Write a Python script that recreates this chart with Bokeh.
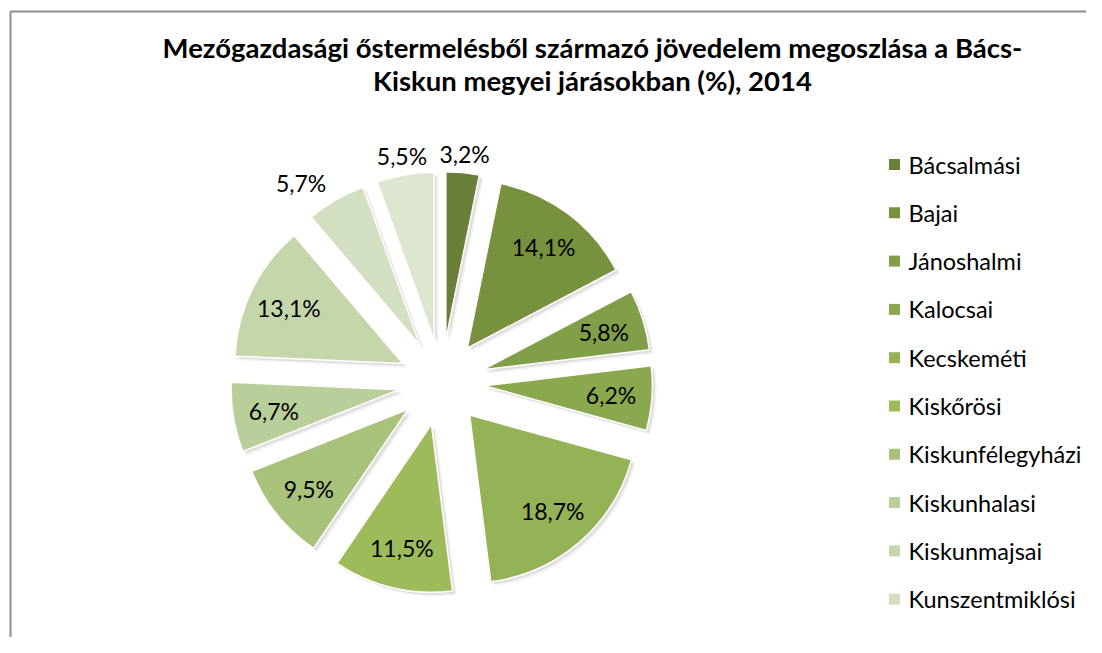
import math
from bokeh.plotting import figure
from bokeh.models import Range1d, ColumnDataSource
from bokeh.core.properties import value
from bokeh.embed import file_html
from bokeh.resources import INLINE

# ---- data ----
title_lines = ["Mezőgazdasági őstermelésből származó jövedelem megoszlása a Bács-",
               "Kiskun megyei járásokban (%), 2014"]
districts = ["Bácsalmási", "Bajai", "Jánoshalmi", "Kalocsai", "Kecskeméti", "Kiskőrösi",
             "Kiskunfélegyházi", "Kiskunhalasi", "Kiskunmajsai", "Kunszentmiklósi", "Tiszakécskei"]
shares = [3.2, 14.1, 5.8, 6.2, 18.7, 11.5, 9.5, 6.7, 13.1, 5.7, 5.5]
legend_count = 10  # the reference legend shows only the first ten entries
colors = ["#6a8039", "#77913f", "#819e48", "#8aa84d", "#94b256", "#9dbb5a",
          "#a9c27b", "#b9cf99", "#c6d6ab", "#d2dfc0", "#dde7d0"]

# ---- layout (picture pixels -> data units 1:1, y up) ----
W, H = 1086, 637
IMG_H = 653
def Y(y_img):
    return IMG_H - y_img

FONT = "Lato"
cx, cy = 441, Y(382)
R = 168          # slice radius
EXPLODE = 43     # explosion distance
LBL_IN = 170
LBL_OUT = 230

total = sum(shares)
xs, ys, starts, ends = [], [], [], []
lx, ly, ltxt, lalign = [], [], [], []
cum = 0.0
for v in shares:
    a0 = cum / total * 2 * math.pi
    a1 = (cum + v) / total * 2 * math.pi
    mid = (a0 + a1) / 2
    xs.append(cx + EXPLODE * math.sin(mid))
    ys.append(cy + EXPLODE * math.cos(mid))
    starts.append(math.pi / 2 - a0)
    ends.append(math.pi / 2 - a1)
    txt = f"{v:.1f}".replace(".", ",") + "%"
    if v < 5.75:
        rr = LBL_OUT
        s = math.sin(mid)
        al = "center" if abs(s) < 0.3 else ("right" if s < 0 else "left")
    else:
        rr = LBL_IN
        al = "center"
    lx.append(cx + rr * math.sin(mid))
    ly.append(cy + rr * math.cos(mid))
    ltxt.append(txt)
    lalign.append(al)
    cum += v

src = ColumnDataSource(dict(x=xs, y=ys, start=starts, end=ends, color=colors))

p = figure(width=W, height=H, output_backend="svg", toolbar_location=None,
           x_range=Range1d(0, W), y_range=Range1d(Y(H), Y(0)),
           min_border=0, outline_line_color=None)
p.axis.visible = False
p.grid.visible = False
p.background_fill_color = "white"
p.border_fill_color = "white"

# chart frame (left and top edges visible in the reference)
p.line(x=[10, 10, W + 20], y=[Y(H + 20), Y(11), Y(11)], line_color="#8d8d8d", line_width=2)

# soft shadows
for off, alpha in [(4, 0.05), (2.5, 0.08)]:
    sh = ColumnDataSource(dict(x=[x + off for x in xs], y=[y - off for y in ys],
                               start=starts, end=ends))
    p.wedge(x="x", y="y", radius=R, start_angle="start", end_angle="end",
            direction="clock", source=sh, fill_color="black", fill_alpha=alpha,
            line_color=None)

p.wedge(x="x", y="y", radius=R, start_angle="start", end_angle="end", direction="clock",
        source=src, fill_color="color", line_color="white", line_width=1.5)

# data labels
for x, y, t, al in zip(lx, ly, ltxt, lalign):
    p.text(x=[x], y=[y], text=[t], text_font=value(FONT), text_font_size="23px",
           text_color="black", text_align=al, text_baseline="middle")

# title
title_cx = 592
for i, line in enumerate(title_lines):
    p.text(x=[title_cx], y=[Y(47 + i * 33)], text=[line], text_font=value(FONT),
           text_font_size="27.5px", text_font_style="bold", text_color="black",
           text_align="center", text_baseline="middle")

# legend
leg_x, leg_y0, leg_dy = 894, 164, 48.3
for i in range(legend_count):
    yy = Y(leg_y0 + i * leg_dy)
    p.scatter(x=[leg_x], y=[yy], marker="square", size=11, fill_color=colors[i],
              line_color=None)
    p.text(x=[leg_x + 14], y=[yy], text=[districts[i]], text_font=value(FONT),
           text_font_size="23.5px", text_color="black", text_align="left",
           text_baseline="middle")

open("out.html", "w").write(file_html(p, INLINE))
